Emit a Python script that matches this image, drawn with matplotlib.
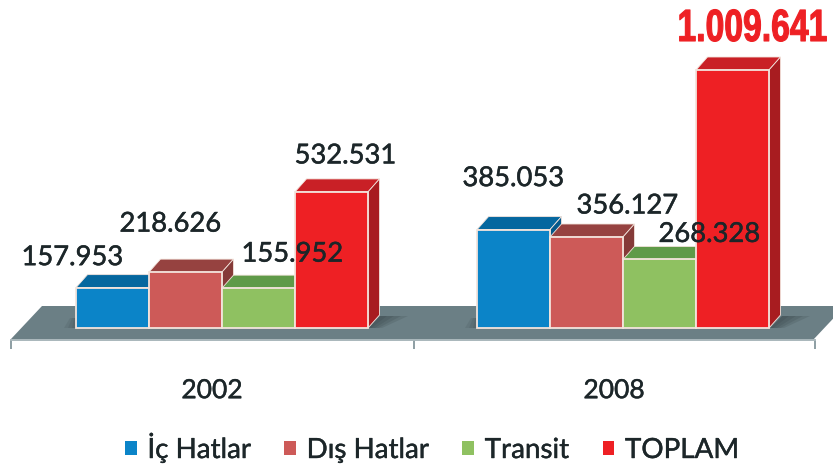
import matplotlib
matplotlib.use("Agg")
import matplotlib.pyplot as plt
import matplotlib.patheffects as pe
from matplotlib.patches import Polygon
from matplotlib.transforms import Affine2D

# ---- data ----
years = ["2002", "2008"]
series_names = ["İç Hatlar", "Dış Hatlar", "Transit", "TOPLAM"]
ic_hatlar = [157953, 385053]
dis_hatlar = [218626, 356127]
transit = [155952, 268328]
toplam = [532531, 1009641]
value_labels = [["157.953", "385.053"], ["218.626", "356.127"],
                ["155.952", "268.328"], ["532.531", "1.009.641"]]
# ---- style ----
front = ["#0b84c8", "#cd5a58", "#8fc161", "#ee2024"]
top = ["#05679f", "#964240", "#5f9a48", "#c92026"]
side = ["#04588a", "#853a38", "#4f8a3e", "#a81c20"]
label_offsets = [[(-40, 30), (0, 51)], [(-15, 48), (41, 31)],
                 [(34, 34), (50, 25)], [(14, 36), (-55, 29)]]

W, H = 833, 469
PPU = 258 / 1009641      # pixels per value unit
UNIT = 401               # pixels per category
X0, Y0 = 222, 328        # pixel of category 0 / value 0
BAR_W = 73 / UNIT
DX, DY = 11.5 / UNIT, 13 / PPU
def xpx(p): return (p - X0) / UNIT
def ypx(p): return (Y0 - p) / PPU


class Stretch(pe.AbstractPathEffect):
    """Draw text taller, as the condensed poster font of the original."""
    def __init__(self, sx, sy, stroke):
        super().__init__()
        self.sx, self.sy, self.stroke = sx, sy, stroke

    def draw_path(self, renderer, gc, tpath, affine, rgbFace=None):
        gc0 = renderer.new_gc()
        gc0.copy_properties(gc)
        gc0.set_linewidth(self.stroke)
        gc0.set_foreground(rgbFace)
        renderer.draw_path(gc0, tpath, Affine2D().scale(self.sx, self.sy) + affine, rgbFace)
        gc0.restore()


plt.rcParams['font.family'] = ['Lato', 'DejaVu Sans']
fig = plt.figure(figsize=(W / 100, H / 100), dpi=100)
ax = fig.add_axes([0, 0, 1, 1])
ax.set_xlim(xpx(0), xpx(W))
ax.set_ylim(ypx(H), ypx(0))
ax.set_yticks([])
for s in ("left", "right", "top"):
    ax.spines[s].set_visible(False)
ax.patch.set_alpha(0)

# floor
ax.add_patch(Polygon([(xpx(11), ypx(339)), (xpx(42), ypx(306)), (xpx(845), ypx(306)),
                      (xpx(813), ypx(340))], fc="#6b7f85", ec="none", zorder=1))
# soft shadows beside the tall bars
for base in (368, 770):
    for w in (7, 14, 21, 28):
        ax.add_patch(Polygon([(xpx(base), ypx(328)), (xpx(base + 12), ypx(316)),
                              (xpx(base + 12 + w), ypx(316)), (xpx(base + w * .5), ypx(328))],
                             fc="#2f3b3f", ec="none", alpha=.16, zorder=1.5))
for base in (76, 477):
    for w in (4, 8, 12):
        ax.add_patch(Polygon([(xpx(base - w), ypx(328)), (xpx(base), ypx(328)), (xpx(base), ypx(318)),
                              (xpx(base - w * .5), ypx(318))],
                             fc="#2f3b3f", ec="none", alpha=.12, zorder=1.5))

# bars
all_series = [ic_hatlar, dis_hatlar, transit, toplam]
for k, vals in enumerate(all_series):
    xs = [c + (k - 1.5) * BAR_W for c in range(len(years))]
    z = 3 + k
    ax.bar(xs, vals, width=BAR_W, color=front[k], edgecolor="#f3e4dc", linewidth=1.3,
           label=series_names[k], zorder=z + .2)
    for x, v in zip(xs, vals):
        l, r = x - BAR_W / 2, x + BAR_W / 2
        ax.add_patch(Polygon([(l, v), (r, v), (r + DX, v + DY), (l + DX, v + DY)],
                             fc=top[k], ec="#f3e4dc", lw=.6, zorder=z))
        ax.add_patch(Polygon([(r, 0), (r, v), (r + DX, v + DY), (r + DX, DY)],
                             fc=side[k], ec="#f3e4dc", lw=.6, zorder=z))

# value labels
for k, vals in enumerate(all_series):
    for c, v in enumerate(vals):
        x = c + (k - 1.5) * BAR_W
        txt = value_labels[k][c]
        if txt == "1.009.641":
            ax.annotate(txt, (x, v), xytext=label_offsets[k][c], textcoords="offset pixels",
                        ha="left", va="baseline", fontsize=25, fontweight="bold",
                        family=["Liberation Sans", "DejaVu Sans"], color="#ee2024", zorder=20,
                        path_effects=[Stretch(0.97, 1.3, 0.8)])
        else:
            ax.annotate(txt, (x, v), xytext=label_offsets[k][c], textcoords="offset pixels",
                        ha="center", va="center", fontsize=19.7, color="#1c2629", zorder=20,
                        path_effects=[pe.withStroke(linewidth=0.35, foreground="#1c2629")])

# axis
ax.spines["bottom"].set_position(("data", ypx(340)))
ax.spines["bottom"].set_bounds(xpx(11), xpx(815))
ax.spines["bottom"].set_color("#a9b7bb")
ax.spines["bottom"].set_linewidth(1.4)
ax.set_xticks([xpx(11), xpx(414), xpx(815)])
ax.set_xticklabels([])
ax.set_xticks([xpx(212), xpx(614)], minor=True)
ax.set_xticklabels(years, minor=True, fontsize=19, color="#1c2629",
                   path_effects=[pe.withStroke(linewidth=0.3, foreground="#1c2629")])
ax.tick_params(axis="x", which="major", length=6.5, width=1.4, color="#8d9ea3")
ax.tick_params(axis="x", which="minor", length=0, pad=27.5)

# legend
leg = ax.legend(loc="center", bbox_to_anchor=(432 / W, 1 - 447 / H), ncol=4, frameon=False,
                fontsize=20, handlelength=0.42, handleheight=0.42, handletextpad=0.38,
                columnspacing=1.2, labelcolor="#1c2629", borderpad=0)
for t in leg.get_texts():
    t.set_path_effects([pe.withStroke(linewidth=0.3, foreground="#1c2629")])
for h in leg.legend_handles:
    h.set_edgecolor("none")

fig.savefig("out.png", dpi=100)
